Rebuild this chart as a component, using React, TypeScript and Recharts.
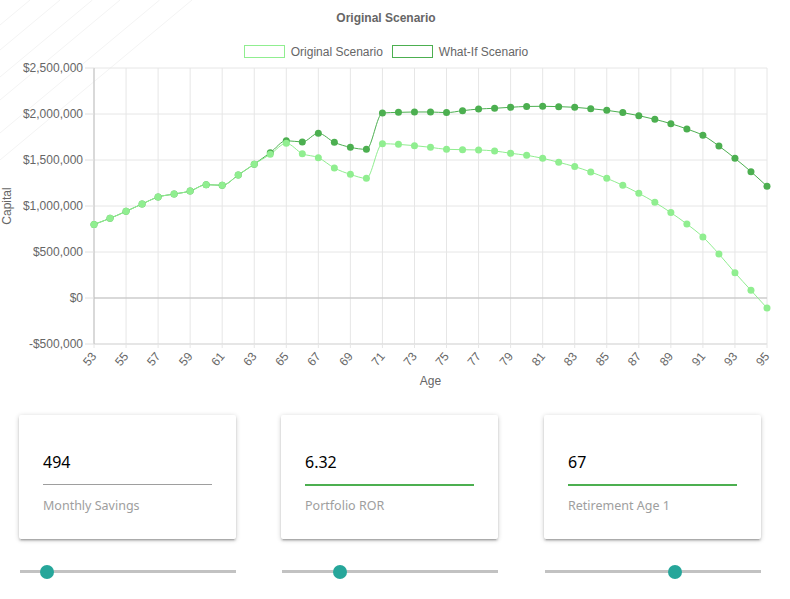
import React from 'react';
import { LineChart, Line, XAxis, YAxis, CartesianGrid, ReferenceLine, Label } from 'recharts';

const ages = [53, 54, 55, 56, 57, 58, 59, 60, 61, 62, 63, 64, 65, 66, 67, 68, 69, 70, 71, 72, 73, 74, 75, 76, 77, 78, 79, 80, 81, 82, 83, 84, 85, 86, 87, 88, 89, 90, 91, 92, 93, 94, 95];
const originalScenario = [800000, 866000, 942000, 1022000, 1098000, 1130000, 1163000, 1232000, 1225000, 1337000, 1455000, 1562000, 1681000, 1569000, 1525000, 1413000, 1344000, 1301000, 1677000, 1670000, 1656000, 1638000, 1616000, 1612000, 1609000, 1598000, 1573000, 1551000, 1518000, 1475000, 1428000, 1370000, 1301000, 1225000, 1138000, 1040000, 928000, 804000, 663000, 478000, 275000, 83000, -109000];
const whatIfScenario = [800000, 866000, 942000, 1022000, 1098000, 1130000, 1163000, 1232000, 1225000, 1337000, 1455000, 1579000, 1710000, 1696000, 1790000, 1692000, 1638000, 1616000, 2011000, 2018000, 2022000, 2022000, 2015000, 2036000, 2054000, 2062000, 2073000, 2082000, 2084000, 2080000, 2073000, 2058000, 2040000, 2015000, 1982000, 1942000, 1895000, 1837000, 1768000, 1652000, 1518000, 1373000, 1214000];
const xTicks = [53, 55, 57, 59, 61, 63, 65, 67, 69, 71, 73, 75, 77, 79, 81, 83, 85, 87, 89, 91, 93, 95];
const yTicks = [-500000, 0, 500000, 1000000, 1500000, 2000000, 2500000];

const cardValues = ['494', '6.32', '67'];
const cardLabels = ['Monthly Savings', 'Portfolio ROR', 'Retirement Age 1'];
const sliderFractions = [0.125, 0.27, 0.6];

const data = ages.map((age, i) => ({ age, original: originalScenario[i], whatIf: whatIfScenario[i] }));

const ORIG = '#90ee90';
const WHATIF = '#4caf50';
const FONT = '"Liberation Sans", Arial, Helvetica, sans-serif';

const fmtMoney = (v: number) => (v < 0 ? '-$' : '$') + Math.abs(v).toLocaleString('en-US');

const XTick = (props: any) => {
  const { x, y, payload } = props;
  return (
    <text x={x} y={y} transform={`rotate(-50 ${x} ${y})`} textAnchor="end" dominantBaseline="central" fill="#666" fontSize={12} fontFamily={FONT}>
      {payload.value}
    </text>
  );
};

const YLabel = (props: any) => {
  const vb = props.viewBox || { y: 68, height: 276 };
  const cy = vb.y + vb.height / 2;
  return (
    <text x={7} y={cy} transform={`rotate(-90 7 ${cy})`} textAnchor="middle" dominantBaseline="central" fill="#666" fontSize={12} fontFamily={FONT}>
      Capital
    </text>
  );
};

const cardLefts = [19, 281, 544];
const sliderLefts = [20, 282, 545];

export default function App() {
  return (
    <div style={{ position: 'absolute', left: 0, top: 0, width: 790, height: 599, background: '#fff', overflow: 'hidden' }}>
      <svg width={200} height={160} style={{ position: 'absolute', left: 0, top: 0 }}>
        {[25, 50, 77, 100, 133, 160].map((b, i) => (
          <line key={i} x1={0} y1={b} x2={b * 1.2} y2={0} stroke="#f3f3f3" strokeWidth={1} />
        ))}
      </svg>
      <div style={{ position: 'absolute', left: 0, top: 11, width: 772, textAlign: 'center', fontFamily: FONT, fontSize: 12, fontWeight: 'bold', color: '#666' }}>
        Original Scenario
      </div>
      <div style={{ position: 'absolute', left: 0, top: 45, width: 772, display: 'flex', justifyContent: 'center', fontFamily: FONT, fontSize: 12, color: '#666', lineHeight: '14px' }}>
        <span style={{ display: 'inline-block', width: 39, height: 11, border: `1px solid ${ORIG}`, background: '#fff', marginRight: 6 }} />
        <span style={{ marginRight: 9 }}>Original Scenario</span>
        <span style={{ display: 'inline-block', width: 39, height: 11, border: `1px solid ${WHATIF}`, background: '#fff', marginRight: 6 }} />
        <span>What-If Scenario</span>
      </div>
      <div style={{ position: 'absolute', left: 0, top: 0 }}>
        <LineChart width={790} height={390} data={data} margin={{ top: 68, right: 23, bottom: 0, left: 0 }}>
          <CartesianGrid stroke="#e6e6e6" strokeWidth={1} />
          <XAxis
            type="number"
            dataKey="age"
            domain={[53, 95]}
            ticks={xTicks}
            interval={0}
            height={46}
            tick={<XTick />}
            tickSize={4}
            tickMargin={6}
            tickLine={{ stroke: '#e6e6e6' }}
            axisLine={{ stroke: '#d9d9d9' }}
          >
            <Label value="Age" position="insideBottom" offset={5} fill="#666" fontSize={12} fontFamily={FONT} />
          </XAxis>
          <YAxis
            domain={[-500000, 2500000]}
            ticks={yTicks}
            interval={0}
            width={94}
            tickFormatter={fmtMoney}
            tick={{ fill: '#666', fontSize: 12, fontFamily: FONT }}
            tickSize={9}
            tickMargin={2}
            tickLine={{ stroke: '#e0e0e0' }}
            axisLine={{ stroke: '#bfbfbf' }}
          >
            <Label content={<YLabel />} />
          </YAxis>
          <ReferenceLine y={0} stroke="#bfbfbf" strokeWidth={1} />
          <Line
            type="monotone"
            dataKey="whatIf"
            stroke={WHATIF}
            strokeWidth={1}
            dot={{ r: 3.5, fill: WHATIF, stroke: WHATIF, strokeWidth: 0 }}
            isAnimationActive={false}
          />
          <Line
            type="monotone"
            dataKey="original"
            stroke={ORIG}
            strokeWidth={1}
            dot={{ r: 3.5, fill: ORIG, stroke: ORIG, strokeWidth: 0 }}
            isAnimationActive={false}
          />
        </LineChart>
      </div>
      {cardLefts.map((left, i) => (
        <div
          key={i}
          style={{
            position: 'absolute',
            left,
            top: 415,
            width: 217,
            height: 124,
            background: '#fff',
            borderRadius: 2,
            boxShadow: '0 2px 2px 0 rgba(0,0,0,0.14), 0 3px 1px -2px rgba(0,0,0,0.12), 0 1px 5px 0 rgba(0,0,0,0.2)',
            fontFamily: '"Noto Sans", "Open Sans", sans-serif',
          }}
        >
          <div style={{ position: 'absolute', left: 24, top: 36, fontSize: 16, color: '#000', lineHeight: '22px' }}>{cardValues[i]}</div>
          <div style={{ position: 'absolute', left: 24, top: 69, width: 169, height: i === 0 ? 1 : 2, background: i === 0 ? '#9e9e9e' : '#4caf50' }} />
          <div style={{ position: 'absolute', left: 24, top: 82, fontSize: 12.5, color: '#9e9e9e', lineHeight: '18px' }}>{cardLabels[i]}</div>
        </div>
      ))}
      {sliderLefts.map((left, i) => (
        <div key={i} style={{ position: 'absolute', left, top: 570, width: 216, height: 3, background: '#c2c2c2' }}>
          <div style={{ position: 'absolute', left: 216 * sliderFractions[i] - 7, top: -5.5, width: 14, height: 14, borderRadius: '50%', background: '#26a69a' }} />
        </div>
      ))}
    </div>
  );
}
